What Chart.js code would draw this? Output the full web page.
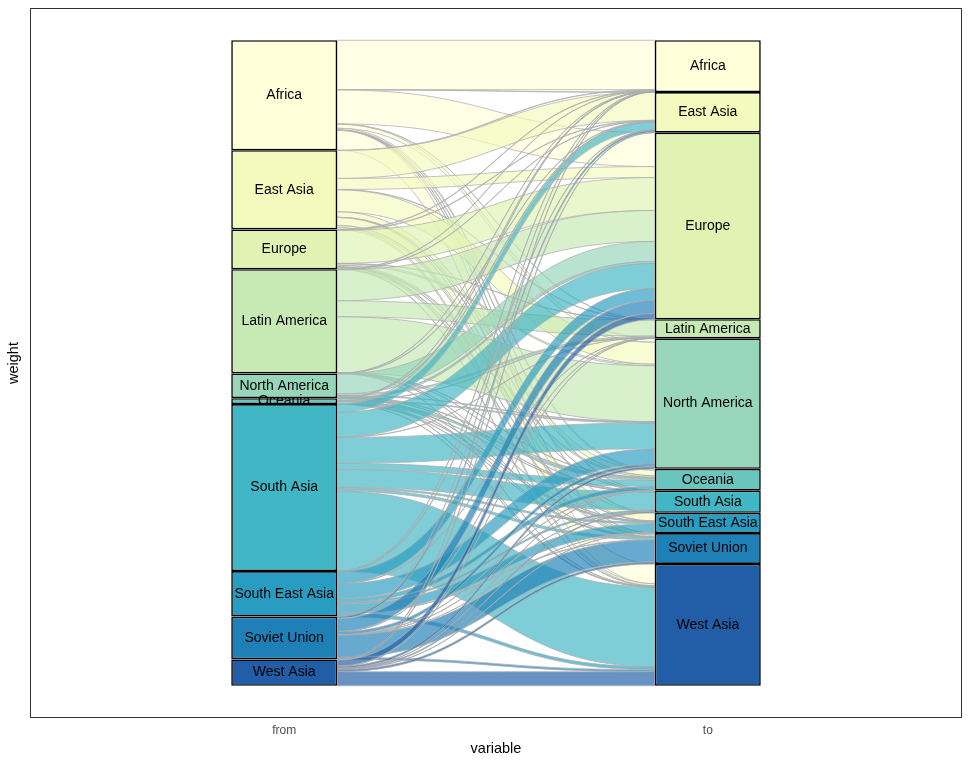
<!DOCTYPE html>
<html>
<head>
<meta charset="utf-8">
<title>Alluvial: from / to</title>
<script src="https://cdn.jsdelivr.net/npm/chart.js@4.4.1/dist/chart.umd.min.js"></script>
<style>
  html, body { margin: 0; padding: 0; background: #ffffff; }
  #wrap { width: 968px; height: 763px; position: relative; }
</style>
</head>
<body>
<div id="wrap"><canvas id="alluvial"></canvas></div>
<script>
// Regions, in stacking order (top to bottom) for both axes
const regions = ['Africa', 'East Asia', 'Europe', 'Latin America', 'North America',
                 'Oceania', 'South Asia', 'South East Asia', 'Soviet Union', 'West Asia'];
const regionColours = ['#ffffd9', '#f3fabe', '#e0f3b2', '#c7e9b4', '#97d6b9',
                       '#6ac5be', '#41b6c4', '#299dc1', '#1f80b8', '#225ea8'];
const axisLabels = ['from', 'to'];

// Flow weights per origin, one value per destination (same order as regions)
const fromAfrica       = [49.5, 0.3, 34, 0.3, 4, 1.5, 0.3, 0.2, 0.1, 20];
const fromEastAsia     = [0.3, 28, 11, 0.3, 22, 5.5, 0.3, 8, 2, 2];
const fromEurope       = [0.5, 0.5, 33, 0.3, 1.5, 1.5, 0.3, 0.3, 1.5, 0.5];
const fromLatinAmerica = [0.3, 0.3, 31, 16, 56, 0.3, 0.1, 0.1, 0.1, 0.2];
const fromNorthAmerica = [0.2, 0.5, 20, 1.5, 0.5, 0.7, 0.3, 0.5, 0.3, 0.3];
const fromOceania      = [0.1, 0.3, 2, 0.1, 0.8, 2, 0.1, 0.3, 0.1, 0.1];
const fromSouthAsia    = [0.3, 8, 25, 0.1, 26, 6, 18, 1.5, 2.5, 80];
const fromSouthEastAsia= [0.1, 0.5, 12, 0.2, 15, 4, 1.5, 9, 0.3, 3];
const fromSovietUnion  = [0.1, 2, 13, 0.1, 3, 0.3, 0.3, 0.1, 22, 2];
const fromWestAsia     = [0.5, 0.3, 6, 0.2, 2, 0.1, 1, 0.3, 2, 14];

const flows = [fromAfrica, fromEastAsia, fromEurope, fromLatinAmerica, fromNorthAmerica,
               fromOceania, fromSouthAsia, fromSouthEastAsia, fromSovietUnion, fromWestAsia];

// Stratum sizes
const fromTotals = flows.map(row => row.reduce((a, b) => a + b, 0));
const toTotals = regions.map((_, j) => flows.reduce((s, row) => s + row[j], 0));
const grandTotal = fromTotals.reduce((a, b) => a + b, 0);

// Value at the top of stratum k (stacking goes bottom-up, so last region sits at 0)
function stratumTop(totals, k) {
    let s = 0;
    for (let m = k; m < totals.length; m++) s += totals[m];
    return s;
}

function withAlpha(hex, a) {
    const r = parseInt(hex.slice(1, 3), 16);
    const g = parseInt(hex.slice(3, 5), 16);
    const b = parseInt(hex.slice(5, 7), 16);
    return `rgba(${r}, ${g}, ${b}, ${a})`;
}

// Datasets: Chart.js stacks the first dataset at the bottom, so reverse
const datasets = regions.map((name, k) => ({
    label: name,
    data: [{ x: 1, y: fromTotals[k] }, { x: 2, y: toTotals[k] }],
    backgroundColor: regionColours[k],
    borderColor: '#000000',
    borderWidth: 1.6,
    borderSkipped: false,
    categoryPercentage: 1,
    barPercentage: 0.25
})).reverse();

// Flow ribbons between the two stacked bars
const flowPlugin = {
    id: 'flows',
    beforeDatasetsDraw(chart) {
        const ctx = chart.ctx;
        const y = chart.scales.y;
        const anyBar = chart.getDatasetMeta(0).data;
        const xL = anyBar[0].x + anyBar[0].width / 2;
        const xR = anyBar[1].x - anyBar[1].width / 2;
        const xm = (xL + xR) / 2;

        // running offsets inside each stratum
        const leftUsed = regions.map(() => 0);
        const rightUsed = regions.map(() => 0);
        const segs = [];
        for (let i = 0; i < regions.length; i++) {
            for (let j = 0; j < regions.length; j++) {
                const w = flows[i][j];
                const lTop = stratumTop(fromTotals, i) - leftUsed[i];
                const rTop = stratumTop(toTotals, j) - rightUsed[j];
                leftUsed[i] += w;
                rightUsed[j] += w;
                segs.push({ i, lTop, lBot: lTop - w, rTop, rBot: rTop - w });
            }
        }

        ctx.save();
        ctx.beginPath();
        ctx.rect(chart.chartArea.left, chart.chartArea.top,
                 chart.chartArea.right - chart.chartArea.left,
                 chart.chartArea.bottom - chart.chartArea.top);
        ctx.clip();
        segs.forEach(s => {
            const a = y.getPixelForValue(s.lTop), b = y.getPixelForValue(s.lBot);
            const c = y.getPixelForValue(s.rTop), d = y.getPixelForValue(s.rBot);
            ctx.beginPath();
            ctx.moveTo(xL, a);
            ctx.bezierCurveTo(xm, a, xm, c, xR, c);
            ctx.lineTo(xR, d);
            ctx.bezierCurveTo(xm, d, xm, b, xL, b);
            ctx.closePath();
            ctx.fillStyle = withAlpha(regionColours[s.i], 0.68);
            ctx.fill();
            ctx.lineWidth = 0.9;
            ctx.strokeStyle = 'rgba(175, 175, 175, 0.85)';
            ctx.stroke();
        });
        ctx.restore();
    },
    afterDatasetsDraw(chart) {
        // stratum labels
        const ctx = chart.ctx;
        ctx.save();
        ctx.font = '14px "Liberation Sans", Arial, sans-serif';
        ctx.fillStyle = '#000000';
        ctx.textAlign = 'center';
        ctx.textBaseline = 'middle';
        chart.data.datasets.forEach((ds, di) => {
            chart.getDatasetMeta(di).data.forEach(bar => {
                ctx.fillText(ds.label, bar.x, (bar.y + bar.base) / 2);
            });
        });
        // panel border
        const area = chart.chartArea;
        ctx.strokeStyle = '#333333';
        ctx.lineWidth = 1;
        ctx.strokeRect(area.left + 0.5, area.top + 0.5,
                       area.right - area.left - 1, area.bottom - area.top - 1);
        ctx.restore();
    }
};

new Chart(document.getElementById('alluvial'), {
    type: 'bar',
    data: { datasets },
    plugins: [flowPlugin],
    options: {
        responsive: true,
        maintainAspectRatio: false,
        animation: false,
        layout: { padding: { top: 8, right: 6, left: 0, bottom: 0 } },
        plugins: {
            legend: { display: false },
            tooltip: { enabled: false }
        },
        scales: {
            x: {
                type: 'linear',
                stacked: true,
                offset: false,
                min: 0.4,
                max: 2.6,
                afterBuildTicks: axis => { axis.ticks = [{ value: 1 }, { value: 2 }]; },
                afterFit: axis => { axis.height = 45; },
                ticks: {
                    callback: v => axisLabels[v - 1],
                    color: '#4d4d4d',
                    font: { size: 12, family: '"Liberation Sans", Arial, sans-serif' },
                    padding: 5,
                    maxRotation: 0
                },
                grid: { display: false, drawTicks: false, tickLength: 0, offset: false },
                border: { display: false },
                title: {
                    display: true,
                    text: 'variable',
                    color: '#000000',
                    font: { size: 14.5, family: '"Liberation Sans", Arial, sans-serif' },
                    padding: { top: 0, bottom: 5 }
                }
            },
            y: {
                stacked: true,
                min: -0.05 * grandTotal,
                max: 1.05 * grandTotal,
                afterFit: axis => { axis.width = 30; },
                ticks: { display: false },
                grid: { display: false },
                border: { display: false },
                title: {
                    display: true,
                    text: 'weight',
                    color: '#000000',
                    font: { size: 14.5, family: '"Liberation Sans", Arial, sans-serif' },
                    padding: { top: 5, bottom: 0 }
                }
            }
        }
    }
});
</script>
</body>
</html>
